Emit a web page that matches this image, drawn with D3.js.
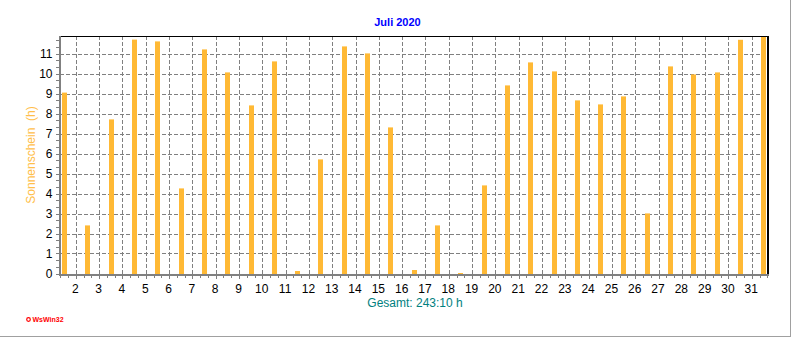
<!DOCTYPE html>
<html>
<head>
<meta charset="utf-8">
<script src="https://cdn.jsdelivr.net/npm/d3@7"></script>
<style>
  html, body { margin: 0; padding: 0; background: #fff; }
  svg { display: block; font-family: "Liberation Sans", Arial, sans-serif; }
</style>
</head>
<body>
<svg id="chart" width="792" height="337"></svg>
<script>
// Daily sunshine duration, July 2020 (hours)
const days = d3.range(1, 32);
const sunshine = [
  9.07, 2.43, 7.73, 11.72, 11.63, 4.28, 11.23, 10.08, 8.43, 10.63,
  0.15, 5.73, 11.38, 11.03, 7.33, 0.20, 2.43, 0.05, 4.43, 9.43,
  10.58, 10.13, 8.68, 8.48, 8.88, 3.03, 10.38, 9.98, 10.08, 11.71,
  11.85
];
const xTickLabels = d3.range(2, 32);
const yTickLabels = d3.range(0, 12);

const chartTitle = "Juli 2020";
const yTitle = "Sonnenschein  (h)";

const svg = d3.select("#chart");

// Plot frame
const plotLeft = 60, plotRight = 768, plotTop = 36, plotBottom = 274;

// x: day-of-month as continuous time (day boundaries at midnight)
const x = d3.scaleLinear().domain([1, 32]).range([52.99, 52.99 + 31 * 23.31]);
const y = d3.scaleLinear().domain([0, 11.9]).range([plotBottom, plotTop]);

const crisp = v => Math.round(v) + 0.5;
const gridColor = "#808080";

// Outer window frame (right and bottom edges)
svg.append("line").attr("x1", 790.5).attr("x2", 790.5).attr("y1", 0).attr("y2", 337)
  .attr("stroke", "#a0a0a0").attr("stroke-width", 1);
svg.append("line").attr("x1", 0).attr("x2", 791).attr("y1", 336.5).attr("y2", 336.5)
  .attr("stroke", "#a0a0a0").attr("stroke-width", 1);

// Title
svg.append("text")
  .attr("x", 397.5).attr("y", 26)
  .attr("text-anchor", "middle")
  .attr("font-size", 11).attr("font-weight", "bold")
  .attr("fill", "#0000ff")
  .text(chartTitle);

// Horizontal grid
const grid = svg.append("g").attr("stroke", gridColor).attr("stroke-width", 1)
  .attr("stroke-dasharray", "4,2");
grid.selectAll("line.h").data(yTickLabels.filter(v => v > 0)).join("line")
  .attr("class", "h")
  .attr("x1", plotLeft).attr("x2", plotRight)
  .attr("y1", d => crisp(y(d) - 0.5)).attr("y2", d => crisp(y(d) - 0.5));

// Vertical grid at day boundaries
grid.selectAll("line.v").data(xTickLabels).join("line")
  .attr("class", "v")
  .attr("x1", d => crisp(x(d) - 0.5)).attr("x2", d => crisp(x(d) - 0.5))
  .attr("y1", plotTop).attr("y2", plotBottom);

// Bars, centered on each day
svg.append("g").selectAll("rect").data(days).join("rect")
  .attr("x", d => Math.round(x(d + 0.5) - 2.6))
  .attr("width", 5)
  .attr("y", (d, i) => y(sunshine[i]))
  .attr("height", (d, i) => plotBottom - y(sunshine[i]))
  .attr("fill", "#ffb935");

// Top and right borders
svg.append("line").attr("x1", plotLeft).attr("x2", plotRight + 1).attr("y1", plotTop + 0.5).attr("y2", plotTop + 0.5)
  .attr("stroke", "#000").attr("stroke-width", 1);
svg.append("line").attr("x1", plotRight).attr("x2", plotRight).attr("y1", plotTop).attr("y2", plotBottom + 1)
  .attr("stroke", "#000").attr("stroke-width", 2);

// Left axis line and ticks
const yMinor = d3.range(0, 11.9 + 1e-9, 1 / 3);
svg.append("g").attr("stroke", gridColor).selectAll("line").data(yMinor).join("line")
  .attr("x1", 56).attr("x2", 59)
  .attr("y1", d => crisp(y(d) - 0.5)).attr("y2", d => crisp(y(d) - 0.5));
svg.append("line").attr("x1", 60).attr("x2", 60).attr("y1", plotTop).attr("y2", plotBottom + 2)
  .attr("stroke", gridColor).attr("stroke-width", 2);

// Bottom axis line and ticks (every 8 hours, longer at midnight)
const xMinor = d3.range(1, 32 + 1e-9, 1 / 3).filter(d => x(d) >= plotLeft && x(d) <= plotRight);
svg.append("g").attr("stroke", gridColor).selectAll("line").data(xMinor).join("line")
  .attr("x1", d => crisp(x(d) - 0.5)).attr("x2", d => crisp(x(d) - 0.5))
  .attr("y1", plotBottom + 2)
  .attr("y2", d => Math.abs(d - Math.round(d)) < 1e-6 ? plotBottom + 5 : plotBottom + 4);
svg.append("line").attr("x1", plotLeft - 1).attr("x2", plotRight + 1).attr("y1", plotBottom + 1).attr("y2", plotBottom + 1)
  .attr("stroke", gridColor).attr("stroke-width", 2);

// Y tick labels
svg.append("g").selectAll("text").data(yTickLabels).join("text")
  .attr("x", 52.5).attr("y", d => y(d) + 4.3)
  .attr("text-anchor", "end")
  .attr("font-size", 12).attr("fill", "#000")
  .text(d => d);

// X tick labels at day boundaries
svg.append("g").selectAll("text").data(xTickLabels).join("text")
  .attr("x", d => x(d) - 1).attr("y", 293)
  .attr("text-anchor", "middle")
  .attr("font-size", 12).attr("fill", "#000")
  .text(d => d);

// Y axis title
svg.append("text")
  .attr("transform", "translate(35,155) rotate(-90)")
  .attr("text-anchor", "middle")
  .attr("font-size", 12).attr("fill", "#ffbe4a")
  .attr("xml:space", "preserve")
  .style("white-space", "pre")
  .text(yTitle);

// Monthly total, formatted as h:mm
const totalMin = Math.round(d3.sum(sunshine) * 60);
const totalText = `Gesamt: ${Math.floor(totalMin / 60)}:${String(totalMin % 60).padStart(2, "0")} h`;
svg.append("text")
  .attr("x", 415).attr("y", 306.5)
  .attr("text-anchor", "middle")
  .attr("font-size", 12).attr("fill", "#008080")
  .text(totalText);

// Program mark
svg.append("circle").attr("cx", 28.5).attr("cy", 319.5).attr("r", 1.8)
  .attr("fill", "none").attr("stroke", "#ff0000").attr("stroke-width", 1.2);
svg.append("text")
  .attr("x", 32.5).attr("y", 322)
  .attr("font-size", 7).attr("font-weight", "bold").attr("fill", "#ff0000")
  .text("WsWin32");
</script>
</body>
</html>
